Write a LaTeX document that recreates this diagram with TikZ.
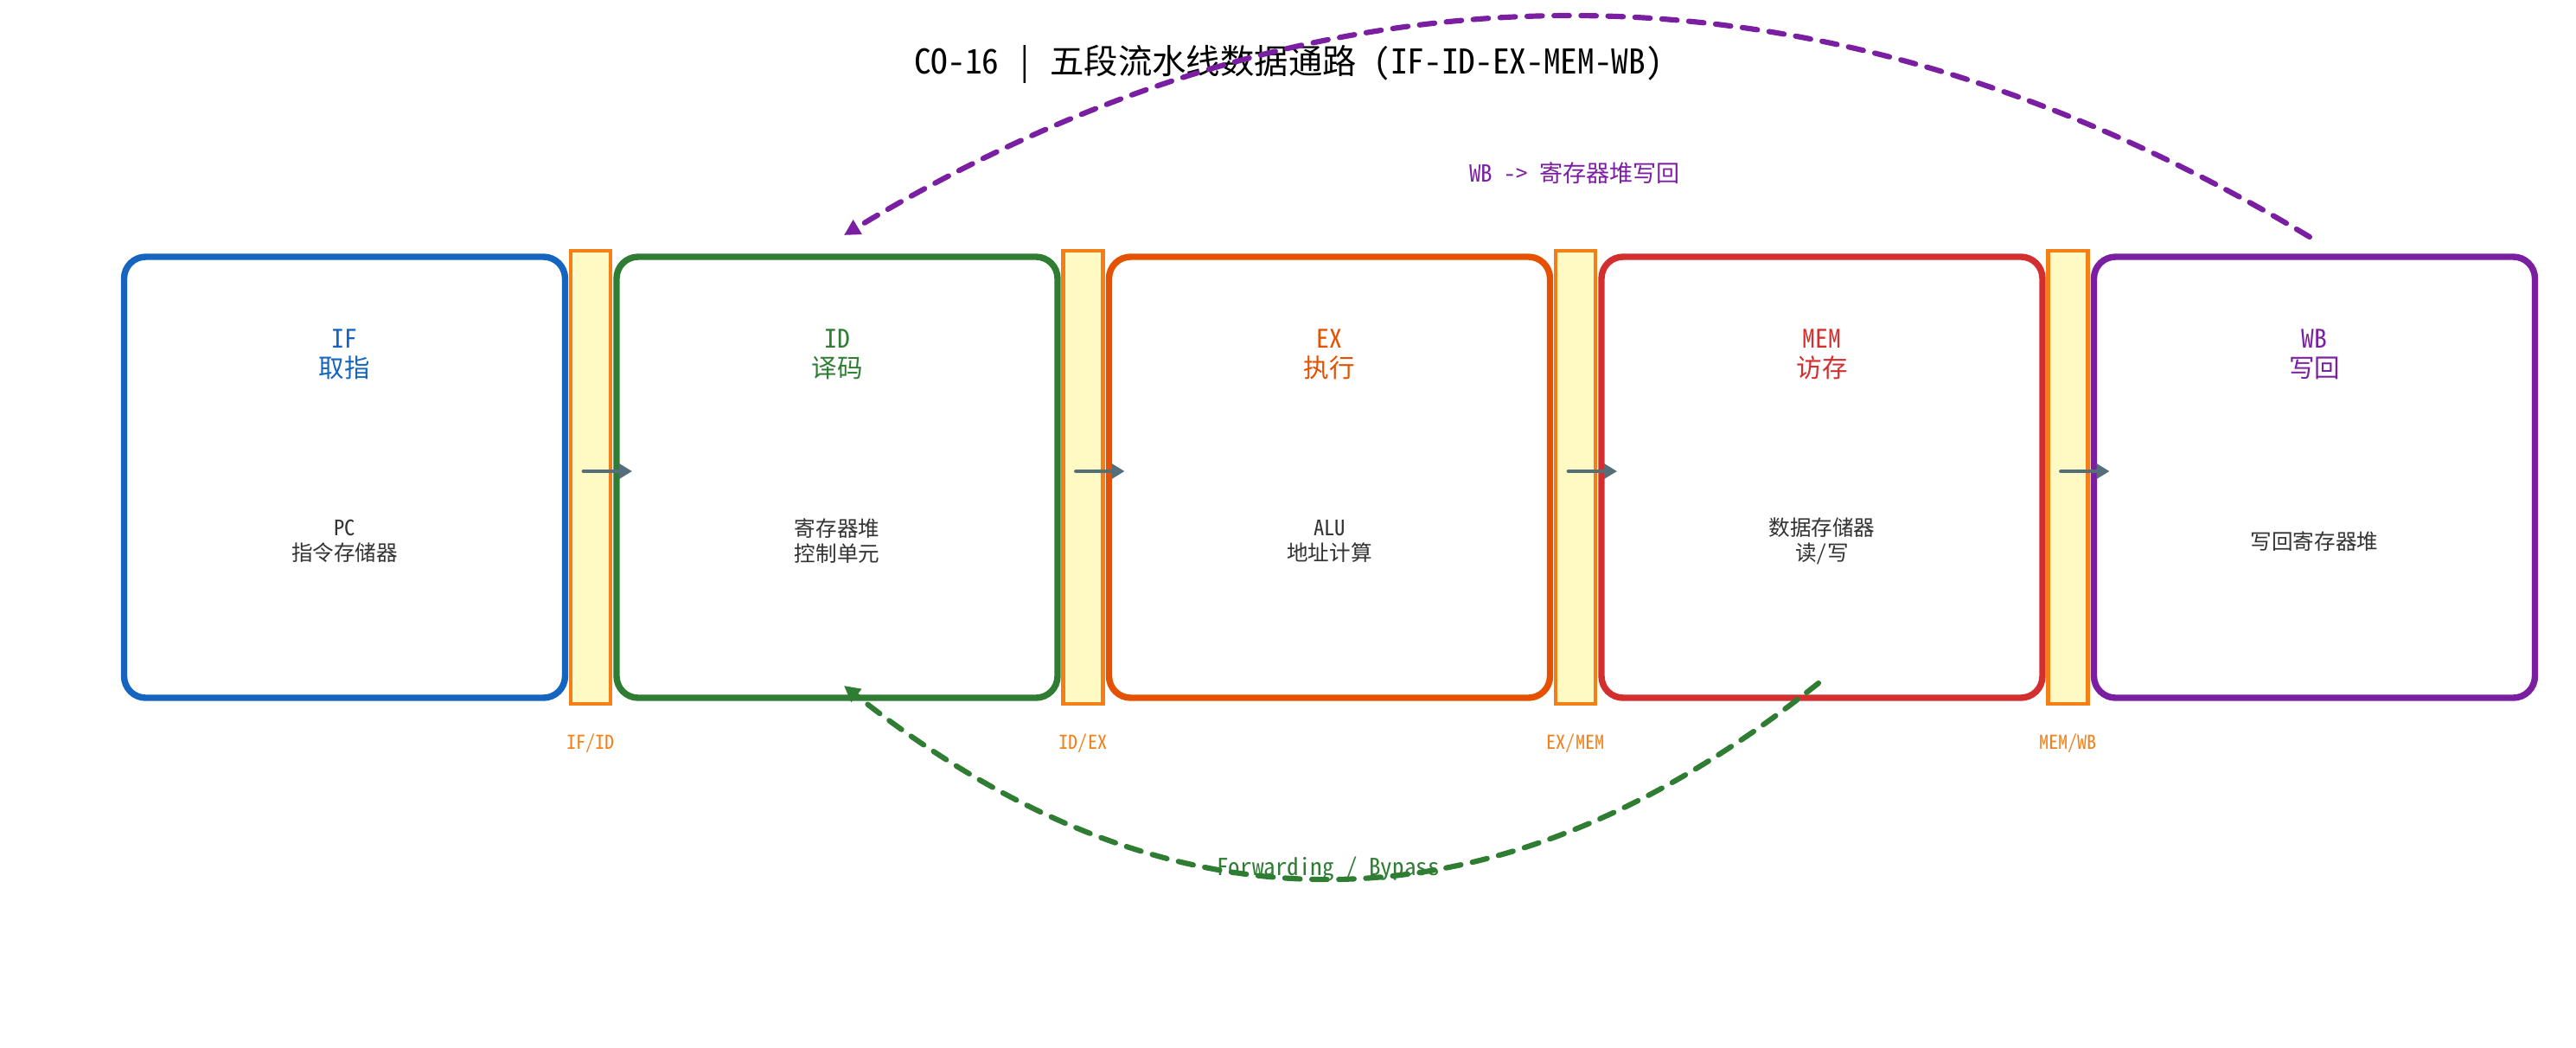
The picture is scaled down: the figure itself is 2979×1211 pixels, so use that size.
\documentclass[tikz,border=0pt]{standalone}
\usepackage{fontspec}
\setmainfont{Noto Sans Mono CJK SC}
\usetikzlibrary{arrows.meta}
\definecolor{cIF}{HTML}{1565C0}
\definecolor{cID}{HTML}{2E7D32}
\definecolor{cEX}{HTML}{E65100}
\definecolor{cMEM}{HTML}{D32F2F}
\definecolor{cWB}{HTML}{7B1FA2}
\definecolor{cReg}{HTML}{F57F17}
\definecolor{cRegFill}{HTML}{FFF9C4}
\definecolor{cFlow}{HTML}{546E7A}
\definecolor{cTxt}{HTML}{333333}
\begin{document}
\begin{tikzpicture}[x=0.25pt,y=-0.25pt,
  stagebox/.style={draw=#1, line width=1.85pt, rounded corners=6.25pt,
    minimum width=127.5pt, minimum height=127.5pt, outer sep=0pt, inner sep=0pt, fill=white},
  regbox/.style={draw=cReg, fill=cRegFill, line width=1.23pt,
    minimum width=11.5pt, minimum height=131pt, outer sep=0pt, inner sep=0pt},
  stagename/.style={text=#1, align=center, font=\fontsize{7.38pt}{8.5pt}\selectfont},
  stagetext/.style={text=cTxt, align=center, font=\fontsize{6.15pt}{7.25pt}\selectfont},
  reglabel/.style={text=cReg, font=\fontsize{5.54pt}{6.6pt}\selectfont},
  flowarrow/.style={draw=cFlow, line width=1.23pt, line cap=round,
    -{Triangle[length=3.7pt,width=4.2pt]}},
  arcarrow/.style={draw=#1, line width=1.54pt, line cap=round,
    dash pattern=on 4.4pt off 3.4pt, -{Triangle[length=4.6pt,width=4.6pt]}},
]
\useasboundingbox (0,0) rectangle (2979,1211);

% title
\node[font=\fontsize{9.84pt}{11.8pt}\selectfont, text=black] (title) at (1490,74)
  {CO-16 | 五段流水线数据通路 (IF-ID-EX-MEM-WB)};

% stages
\node[stagebox=cIF]  (if)  at (398.5,552) {};
\node[stagebox=cID]  (id)  at (968,552)   {};
\node[stagebox=cEX]  (ex)  at (1537.5,552) {};
\node[stagebox=cMEM] (mem) at (2107,552)  {};
\node[stagebox=cWB]  (wb)  at (2676.5,552) {};

% pipeline registers
\node[regbox] (r1) at (683,552) {};
\node[regbox] (r2) at (1252.5,552) {};
\node[regbox] (r3) at (1822,552) {};
\node[regbox] (r4) at (2391.5,552) {};

\node[reglabel] (r1l) at (683,860) {IF/ID};
\node[reglabel] (r2l) at (1252.5,860) {ID/EX};
\node[reglabel] (r3l) at (1822,860) {EX/MEM};
\node[reglabel] (r4l) at (2391.5,860) {MEM/WB};

% stage names
\node[stagename=cIF]  (ifn)  at (398.5,410)  {IF\\取指};
\node[stagename=cID]  (idn)  at (968,410)    {ID\\译码};
\node[stagename=cEX]  (exn)  at (1537.5,410) {EX\\执行};
\node[stagename=cMEM] (memn) at (2107,410)   {MEM\\访存};
\node[stagename=cWB]  (wbn)  at (2676.5,410) {WB\\写回};

% stage contents
\node[stagetext] (ift)  at (398.5,626)  {PC\\指令存储器};
\node[stagetext] (idt)  at (968,626)    {寄存器堆\\控制单元};
\node[stagetext] (ext)  at (1537.5,626) {ALU\\地址计算};
\node[stagetext] (memt) at (2107,626)   {数据存储器\\读/写};
\node[stagetext] (wbt)  at (2676.5,626) {写回寄存器堆};

% flow arrows
\draw[flowarrow] ([xshift=-2pt,yshift=1.75pt]r1.center) -- ([xshift=4.5pt,yshift=1.75pt]id.west);
\draw[flowarrow] ([xshift=-2pt,yshift=1.75pt]r2.center) -- ([xshift=4.5pt,yshift=1.75pt]ex.west);
\draw[flowarrow] ([xshift=-2pt,yshift=1.75pt]r3.center) -- ([xshift=4.5pt,yshift=1.75pt]mem.west);
\draw[flowarrow] ([xshift=-2pt,yshift=1.75pt]r4.center) -- ([xshift=4.5pt,yshift=1.75pt]wb.west);

% forwarding arc
\draw[arcarrow=cID] ([xshift=-1pt,yshift=4.25pt]mem.south)
  .. controls (1727,1090) and (1352,1091) .. ([xshift=2pt,yshift=3.5pt]id.south);
\node[text=cID, font=\fontsize{6.77pt}{8pt}\selectfont] (fwdl) at (1536,1005) {Forwarding / Bypass};

% write-back arc
\draw[arcarrow=cWB] ([xshift=-1.4pt,yshift=5.75pt]wb.north)
  .. controls (2105,-65) and (1538,-66) .. ([xshift=2pt,yshift=6.25pt]id.north);
\node[text=cWB, font=\fontsize{6.77pt}{8pt}\selectfont] (wbl) at (1821,200) {WB -> 寄存器堆写回};
\end{tikzpicture}
\end{document}
